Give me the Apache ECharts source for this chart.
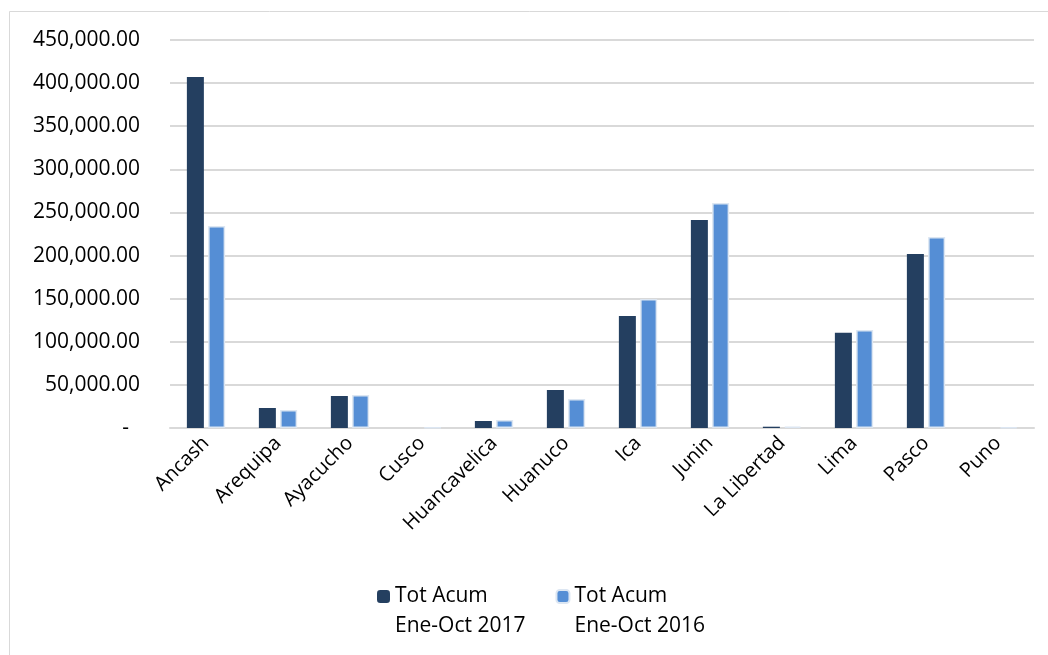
<!DOCTYPE html>
<html>
<head>
<meta charset="utf-8">
<script src="https://cdn.jsdelivr.net/npm/echarts@6/dist/echarts.min.js"></script>
<style>
  body { margin: 0; background: #fff; }
  #echar { width: 1048px; height: 655px; }
</style>
</head>
<body>
<div id="echar"></div>
<script>
// departamentos
var categories = ["Ancash", "Arequipa", "Ayacucho", "Cusco", "Huancavelica", "Huanuco",
  "Ica", "Junin", "La Libertad", "Lima", "Pasco", "Puno"];
// Tot Acum Ene-Oct 2017
var acum2017 = [407000, 23200, 37100, 0, 8100, 44100, 130000, 241200, 1500, 110500, 201800, 0];
// Tot Acum Ene-Oct 2016
var acum2016 = [234300, 20900, 38300, 300, 9300, 33600, 149600, 260900, 1500, 113700, 221500, 800];
var yTicks = [0, 50000, 100000, 150000, 200000, 250000, 300000, 350000, 400000, 450000];

var font = "'Open Sans', sans-serif";
var mychart = echarts.init(document.getElementById("echar"));

function fmt(v) {
  if (v === 0) return "-  ";
  return v.toLocaleString("en-US", { minimumFractionDigits: 2, maximumFractionDigits: 2 });
}

var option = {
  animation: false,
  backgroundColor: "#fff",
  textStyle: { fontFamily: font },
  graphic: [{
    type: "rect",
    shape: { x: 9.5, y: 11.5, width: 1100, height: 700 },
    style: { fill: "none", stroke: "#d9d9d9", lineWidth: 1 }
  }],
  grid: { left: 170, right: 14, top: 40, bottom: 227 },
  legend: {
    left: 377,
    top: 556,
    padding: 0,
    itemWidth: 13,
    itemHeight: 13,
    itemGap: 30,
    // blank first line so the marker sits level with "Tot Acum"
    formatter: function (name) {
      return "{e| }\n{t|" + name.split("\n").join("}\n{t|") + "}";
    },
    textStyle: {
      rich: {
        e: { fontSize: 21, lineHeight: 30 },
        t: { fontFamily: font, fontSize: 21, lineHeight: 30, color: "#000" }
      }
    },
    data: ["Tot Acum\nEne-Oct 2017", "Tot Acum\nEne-Oct 2016"]
  },
  xAxis: {
    type: "category",
    data: categories,
    axisLine: { lineStyle: { color: "#d9d9d9", width: 2 } },
    axisTick: { show: false },
    axisLabel: {
      rotate: 45,
      margin: 12,
      interval: 0,
      fontFamily: font,
      fontSize: 20,
      color: "#000"
    }
  },
  yAxis: {
    type: "value",
    min: yTicks[0],
    max: yTicks[yTicks.length - 1],
    interval: 50000,
    axisLine: { show: false },
    axisTick: { show: false },
    splitLine: { lineStyle: { color: "#d9d9d9", width: 2 } },
    axisLabel: {
      margin: 30,
      fontFamily: font,
      fontSize: 21,
      color: "#000",
      formatter: fmt
    }
  },
  series: [
    {
      name: "Tot Acum\nEne-Oct 2017",
      type: "bar",
      data: acum2017,
      barWidth: 17,
      barGap: "25%",
      itemStyle: { color: "#243f60" }
    },
    {
      name: "Tot Acum\nEne-Oct 2016",
      type: "bar",
      data: acum2016,
      barWidth: 17,
      itemStyle: { color: "#558ed5", borderColor: "#dce6f2", borderWidth: 1.5 }
    }
  ]
};
mychart.setOption(option);
</script>
</body>
</html>
